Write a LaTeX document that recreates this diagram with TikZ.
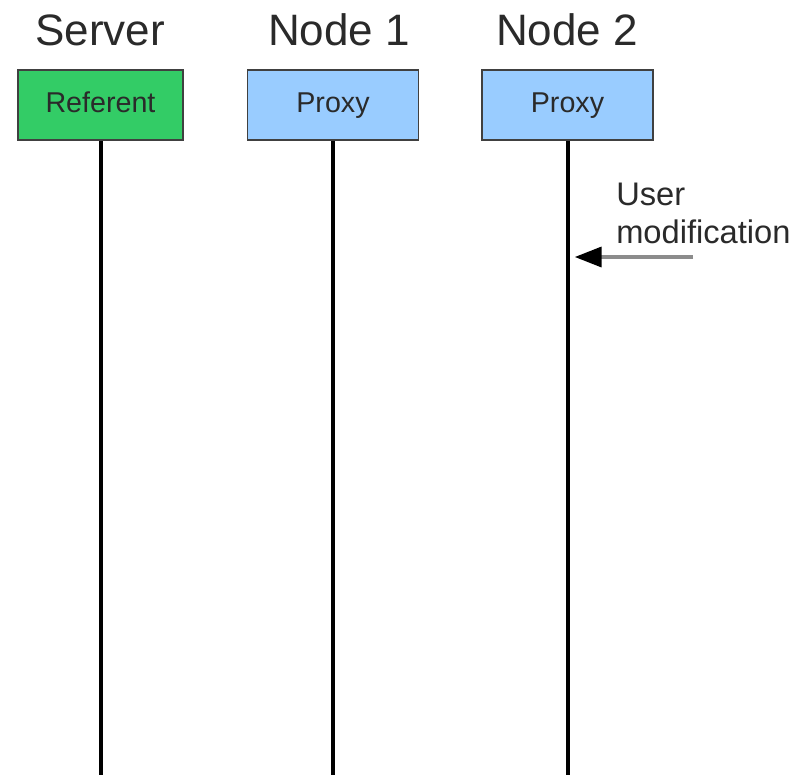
\documentclass[tikz,border=0pt]{standalone}
\usepackage{fontspec}
\setmainfont{Liberation Sans}
\usetikzlibrary{positioning,arrows.meta}
\definecolor{referentcol}{HTML}{33CC66}
\definecolor{proxycol}{HTML}{99CCFF}
\definecolor{edgecol}{HTML}{404040}
\definecolor{textcol}{HTML}{2A2A2A}
\tikzset{
  role/.style={draw=edgecol, line width=1.2pt, minimum width=128pt, minimum height=52.5pt, inner sep=0pt, text height=2.2ex, text depth=0.2ex, text=textcol, font=\fontsize{21.5}{24}\selectfont},
  heading/.style={anchor=base, text=textcol, font=\fontsize{33}{38}\selectfont},
  note/.style={anchor=base west, align=left, text=textcol, inner sep=0pt, font=\fontsize{24.5}{28.5}\selectfont},
  lifeline/.style={line width=3pt},
  inputarrow/.style={draw=black!45, line width=2.4pt, -{Triangle[length=20pt,width=15pt,color=black]}}
}
\begin{document}
\begin{tikzpicture}[x=0.75pt,y=-0.75pt]
\useasboundingbox (0,0) rectangle (809,775);
\node[role, fill=referentcol, minimum width=124pt] (referent) at (100.5,105) {Referent};
\node[role, fill=proxycol] (proxy1) at (333,105) {Proxy};
\node[role, fill=proxycol] (proxy2) at (567.5,105) {Proxy};
\node[heading] (server) at (100,45) {Server};
\node[heading] (node1) at (339,45) {Node 1};
\node[heading] (node2) at (567,45) {Node 2};
\coordinate (bottom) at (0,775);
\draw[lifeline] (referent.south) -- (referent.south |- bottom);
\draw[lifeline] (proxy1.south) -- (proxy1.south |- bottom);
\draw[lifeline] (proxy2.south) -- (proxy2.south |- bottom);
\node[note] (usernote) at (616,243) {User\\modification};
\coordinate (userin) at (693,257);
\draw[inputarrow, shorten >=5.5pt] (userin) -- (userin -| proxy2.south);
\end{tikzpicture}
\end{document}
